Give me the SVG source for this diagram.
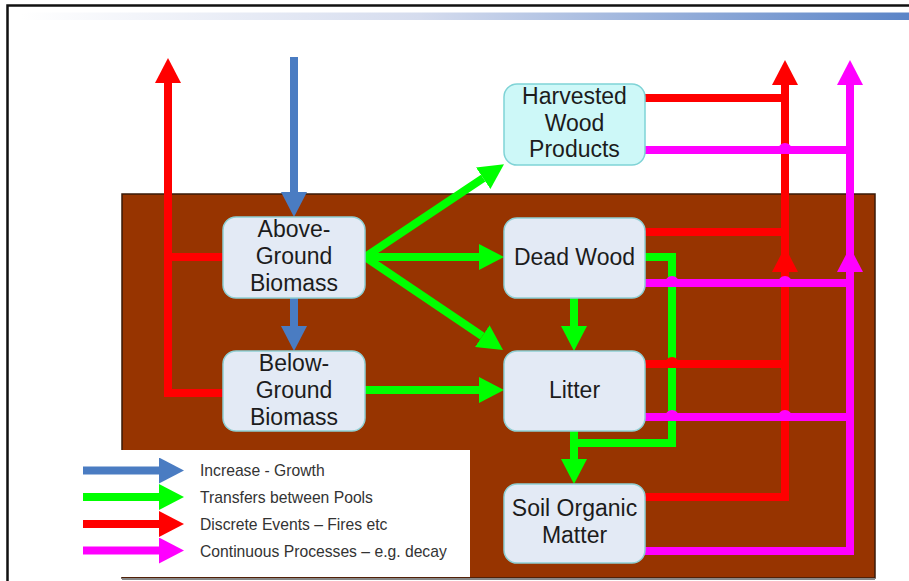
<svg xmlns="http://www.w3.org/2000/svg" width="909" height="581" viewBox="0 0 909 581">
<style>
.node{fill:#e3eaf5;stroke:#8fcfd3;stroke-width:1.5}
.hwp{fill:#cdf8f8;stroke:#7fd3d6;stroke-width:1.5}
.lbl{font-family:"Liberation Sans",Arial,sans-serif;font-size:23px;fill:#1c1c1c;text-anchor:middle}
.leg{font-family:"Liberation Sans",Arial,sans-serif;font-size:15.7px;fill:#333}
.c{fill:none;stroke-width:8;stroke-linejoin:miter;stroke-linecap:butt}
.blue{stroke:#4a7cc2}
.green{stroke:#00ff00}
.red{stroke:#ff0000}
.mag{stroke:#ff00ff}
</style>
<defs>
<linearGradient id="bar" x1="0" y1="0" x2="1" y2="0">
<stop offset="0" stop-color="#ffffff"/>
<stop offset="0.45" stop-color="#d5dcee"/>
<stop offset="1" stop-color="#5a84c7"/>
</linearGradient>
<marker id="hb" viewBox="0 0 25 26" refX="0" refY="13" markerWidth="25" markerHeight="26" markerUnits="userSpaceOnUse" orient="auto"><path d="M0,0 L25,13 L0,26 Z" fill="#4a7cc2"/></marker>
<marker id="hg" viewBox="0 0 25 26" refX="0" refY="13" markerWidth="25" markerHeight="26" markerUnits="userSpaceOnUse" orient="auto"><path d="M0,0 L25,13 L0,26 Z" fill="#00ff00"/></marker>
<marker id="hr" viewBox="0 0 25 26" refX="0" refY="13" markerWidth="25" markerHeight="26" markerUnits="userSpaceOnUse" orient="auto"><path d="M0,0 L25,13 L0,26 Z" fill="#ff0000"/></marker>
<marker id="hm" viewBox="0 0 25 26" refX="0" refY="13" markerWidth="25" markerHeight="26" markerUnits="userSpaceOnUse" orient="auto"><path d="M0,0 L25,13 L0,26 Z" fill="#ff00ff"/></marker>
</defs>
<rect width="909" height="581" fill="#ffffff"/>
<g id="frame">
<rect x="20" y="12.5" width="889" height="7.5" fill="url(#bar)"/>
<path d="M7.5,581 V5.5 H909" fill="none" stroke="#111" stroke-width="2.5"/>
</g>
<g id="ground">
<rect x="122" y="194" width="753" height="384" fill="#973400" stroke="#3a1a08" stroke-width="1.5"/>
<line x1="122" y1="579" x2="875" y2="579" stroke="#888" stroke-width="2"/>
</g>
<g id="connectors">
<path class="c blue" d="M294,57 V192" marker-end="url(#hb)"/>
<path class="c blue" d="M294,298 V326" marker-end="url(#hb)"/>
<path class="c red" d="M223,393 H168 V83" marker-end="url(#hr)"/>
<path class="c red" d="M223,257 H168"/>
<path class="c green" d="M365,257 L483.2,178.2" marker-end="url(#hg)"/>
<path class="c green" d="M365,257 H479" marker-end="url(#hg)"/>
<path class="c green" d="M365,257 L482.3,336.1" marker-end="url(#hg)"/>
<path class="c green" d="M365,390 H479" marker-end="url(#hg)"/>
<path class="c green" d="M574,298 V326" marker-end="url(#hg)"/>
<path class="c green" d="M574,431 V459" marker-end="url(#hg)"/>
<path class="c green" d="M645,257 H672 V443 H574"/>
<path class="c red" d="M645,497 H785 V85" marker-end="url(#hr)"/>
<path class="c red" d="M785,290 V272" marker-end="url(#hr)"/>
<path class="c red" d="M645,364 H785"/>
<path class="c red" d="M645,232 H785"/>
<path class="c red" d="M645,98 H789"/>
<path class="c mag" d="M645,551 H850 V85" marker-end="url(#hm)"/>
<path class="c mag" d="M850,290 V272" marker-end="url(#hm)"/>
<path class="c mag" d="M645,417 H850"/>
<path class="c mag" d="M645,283 H850"/>
<path class="c mag" d="M645,150 H850"/>
<path d="M665,364 A7,7 0 0 1 679,364 Z" fill="#ff0000"/>
<path d="M665,283 A7,7 0 0 1 679,283 Z" fill="#ff00ff"/>
<path d="M778,283 A7,7 0 0 1 792,283 Z" fill="#ff00ff"/>
<path d="M778,150 A7,7 0 0 1 792,150 Z" fill="#ff00ff"/>
<path d="M665,417 A7,7 0 0 1 679,417 Z" fill="#ff00ff"/>
<path d="M778,417 A7,7 0 0 1 792,417 Z" fill="#ff00ff"/>
</g>
<g id="agb">
<rect class="node" x="223" y="217" width="142" height="81" rx="13"/>
<text class="lbl" x="294" y="237">Above-</text>
<text class="lbl" x="294" y="264">Ground</text>
<text class="lbl" x="294" y="291">Biomass</text>
</g>
<g id="bgb">
<rect class="node" x="223" y="351" width="142" height="80" rx="13"/>
<text class="lbl" x="294" y="371">Below-</text>
<text class="lbl" x="294" y="398">Ground</text>
<text class="lbl" x="294" y="425">Biomass</text>
</g>
<g id="hwp">
<rect class="hwp" x="504" y="84" width="141" height="81" rx="13"/>
<text class="lbl" x="574.5" y="104">Harvested</text>
<text class="lbl" x="574.5" y="131">Wood</text>
<text class="lbl" x="574.5" y="157">Products</text>
</g>
<g id="deadwood">
<rect class="node" x="504" y="218" width="141" height="80" rx="13"/>
<text class="lbl" x="574.5" y="265">Dead Wood</text>
</g>
<g id="litter">
<rect class="node" x="504" y="351" width="141" height="80" rx="13"/>
<text class="lbl" x="574.5" y="398">Litter</text>
</g>
<g id="som">
<rect class="node" x="504" y="484" width="141" height="79" rx="13"/>
<text class="lbl" x="574.5" y="516">Soil Organic</text>
<text class="lbl" x="574.5" y="543">Matter</text>
</g>
<g id="legend">
<rect x="80" y="450" width="390" height="127" fill="#ffffff"/>
<path class="c blue" d="M83,470.5 H159" marker-end="url(#hb)"/>
<path class="c green" d="M83,497 H159" marker-end="url(#hg)"/>
<path class="c red" d="M83,524 H159" marker-end="url(#hr)"/>
<path class="c mag" d="M83,550.5 H159" marker-end="url(#hm)"/>
<text class="leg" x="200" y="475.5">Increase - Growth</text>
<text class="leg" x="200" y="502.5">Transfers between Pools</text>
<text class="leg" x="200" y="529.5">Discrete Events – Fires etc</text>
<text class="leg" x="200" y="556.5">Continuous Processes – e.g. decay</text>
</g>
</svg>
